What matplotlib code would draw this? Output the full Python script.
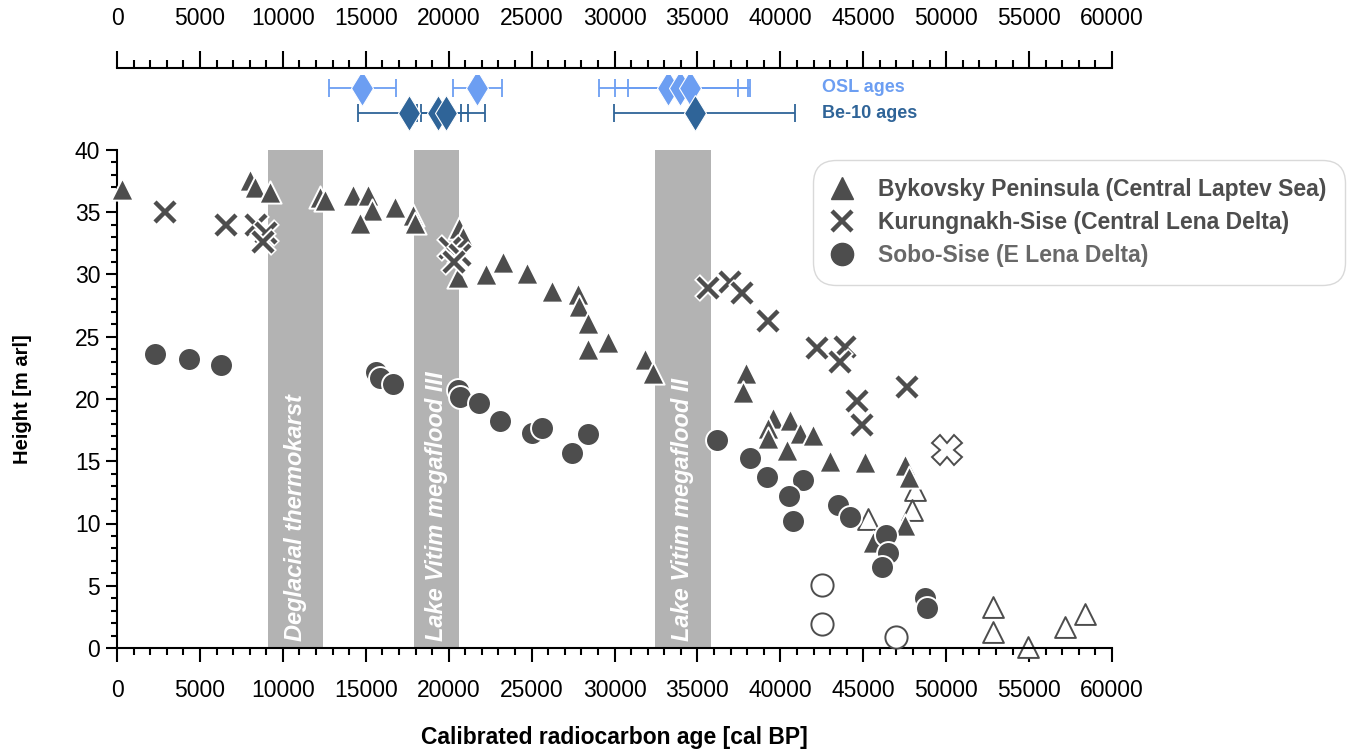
import numpy as np
import matplotlib
matplotlib.use('Agg')
import matplotlib.pyplot as plt
from matplotlib.lines import Line2D

plt.rcParams['font.family'] = ['Liberation Sans', 'DejaVu Sans']

dark = '#4d4d4d'
osl_col = '#6c9ef2'
be_col = '#2f6498'

# Bykovsky Peninsula, filled triangles (age cal BP, height m arl)
byk_age = [300, 8020, 8320, 9230, 12240, 12540, 14230, 15140, 15380, 14650, 16760,
           17850, 17950, 20620, 20860, 20560, 22250, 23280, 24720, 26230, 27800,
           27850, 28400, 28400, 29600, 31840, 32320, 37930, 37750, 39560, 40580,
           39250, 39250, 41190, 41970, 40400, 43000, 45100, 47520, 47760, 47520, 45590]
byk_h = [36.9, 37.6, 37.0, 36.6, 36.2, 36.0, 36.4, 36.4, 35.2, 34.1, 35.4,
         34.8, 34.1, 33.7, 33.0, 29.8, 30.0, 31.0, 30.1, 28.7, 28.4,
         27.5, 26.1, 24.0, 24.6, 23.2, 22.1, 22.1, 20.6, 18.5, 18.3,
         17.7, 16.9, 17.3, 17.1, 15.9, 15.0, 14.9, 14.7, 13.7, 9.9, 8.5]
# Bykovsky, open triangles
byk_open_age = [48120, 47940, 45290, 52820, 52820, 54930, 57160, 58370]
byk_open_h = [12.7, 11.1, 10.4, 3.3, 1.3, 0.1, 1.7, 2.7]

# Kurungnakh-Sise, crosses
kur_age = [2900, 6570, 8400, 9000, 8800, 20100, 20700, 20350, 35640, 36960, 37690,
           39250, 42210, 43900, 43600, 47640, 44620, 44920]
kur_h = [35.0, 34.0, 34.0, 33.3, 32.6, 32.1, 31.6, 31.0, 28.9, 29.4, 28.5,
         26.3, 24.1, 24.2, 23.0, 21.0, 19.8, 17.9]
kur_open_age = [50050]
kur_open_h = [15.9]

# Sobo-Sise, circles
sobo_age = [2290, 4340, 6270, 15620, 15860, 16640, 20560, 20680, 21830, 23090, 25020,
            25630, 27440, 28400, 36180, 38170, 39200, 41370, 40520, 40760, 43480,
            44200, 46370, 46490, 46130, 48720, 48840]
sobo_h = [23.6, 23.2, 22.7, 22.2, 21.7, 21.2, 20.7, 20.2, 19.7, 18.2, 17.3,
          17.7, 15.7, 17.2, 16.7, 15.3, 13.7, 13.5, 12.2, 10.2, 11.5,
          10.5, 9.1, 7.6, 6.5, 4.0, 3.2]
sobo_open_age = [42510, 42510, 46970]
sobo_open_h = [5.1, 1.9, 0.9]

# OSL and Be-10 ages (central value, lower, upper)
osl_age = [14800, 21700, 33200, 33950, 34550]
osl_lo = [12800, 20250, 29050, 30030, 30800]
osl_hi = [16800, 23200, 37450, 38050, 38200]
be_age = [17600, 19350, 19850, 34850]
be_lo = [14550, 18100, 18350, 29950]
be_hi = [20750, 21150, 22200, 40900]

bands = [(9100, 12400, 'Deglacial thermokarst'),
         (17900, 20600, 'Lake Vitim megaflood III'),
         (32450, 35800, 'Lake Vitim megaflood II')]

W, H = 1350, 754
fs = 16.5
fig = plt.figure(figsize=(W / 100, H / 100), dpi=100)
ax = fig.add_axes([117 / W, 106 / H, 995 / W, 498 / H])

for x0, x1, lab in bands:
    ax.axvspan(x0, x1, color='#b3b3b3', zorder=0, lw=0)
    ax.text((x0 + x1) / 2, 0.6, lab, rotation=90, ha='center', va='bottom',
            color='white', fontsize=17, fontweight='bold', fontstyle='italic', zorder=1)

ax.scatter(byk_open_age, byk_open_h, marker='^', s=15 ** 2, facecolor='white',
           edgecolor=dark, linewidths=1.4, zorder=2, clip_on=False)
ax.scatter(byk_age, byk_h, marker='^', s=16 ** 2, facecolor=dark,
           edgecolor='white', linewidths=1.4, zorder=3, clip_on=False)
for xa, ya in zip(kur_age, kur_h):
    ax.plot(xa, ya, marker='x', ms=16.5, mew=6, color='white', zorder=4)
    ax.plot(xa, ya, marker='x', ms=15, mew=3.2, color=dark, zorder=4)
ax.plot(kur_open_age, kur_open_h, marker='X', ms=21, mfc='white', mec=dark, mew=1.4,
        ls='none', zorder=4)
ax.scatter(sobo_age, sobo_h, marker='o', s=16.5 ** 2, facecolor=dark,
           edgecolor='white', linewidths=1.4, zorder=5, clip_on=False)
ax.scatter(sobo_open_age, sobo_open_h, marker='o', s=16 ** 2, facecolor='white',
           edgecolor=dark, linewidths=1.4, zorder=5, clip_on=False)

ax.set_xlim(0, 60000)
ax.set_ylim(0, 40)
ax.spines['top'].set_visible(False)
ax.spines['right'].set_visible(False)
for s in ['left', 'bottom']:
    ax.spines[s].set_linewidth(1.5)
ax.set_xticks(np.arange(0, 60001, 5000))
ax.set_xticks(np.arange(0, 60001, 1000), minor=True)
ax.set_yticks(np.arange(0, 41, 5))
ax.set_yticks(np.arange(0, 41, 1), minor=True)
ax.tick_params(axis='x', which='major', length=10, width=1.5, pad=12, labelsize=fs)
ax.tick_params(axis='x', which='minor', length=5, width=1.5)
ax.tick_params(axis='y', which='major', length=8, width=1.5, pad=4, labelsize=fs)
ax.tick_params(axis='y', which='minor', length=4.5, width=1.5)
ax.set_xlabel('Calibrated radiocarbon age [cal BP]', fontsize=fs, fontweight='bold')
ax.set_ylabel('Height [m arl]', fontsize=14.5, fontweight='bold')
ax.xaxis.set_label_coords(0.5, -0.157)
ax.yaxis.set_label_coords(-0.085, 0.5)

# top scale
axt = fig.add_axes([117 / W, (H - 68) / H, 995 / W, 32 / H])
axt.set_xlim(0, 60000)
axt.set_ylim(0, 1)
for s in ['top', 'left', 'right']:
    axt.spines[s].set_visible(False)
axt.spines['bottom'].set_linewidth(1.5)
axt.set_yticks([])
axt.set_xticks(np.arange(0, 60001, 5000))
axt.set_xticks(np.arange(0, 60001, 1000), minor=True)
axt.tick_params(axis='x', which='both', direction='in', bottom=True, top=False,
                labelbottom=False, labeltop=True, width=1.5)
axt.tick_params(axis='x', which='major', length=12, pad=4, labelsize=fs)
axt.tick_params(axis='x', which='minor', length=6)
axt.patch.set_alpha(0)

# OSL / Be-10 ages
axa = fig.add_axes([117 / W, (H - 140) / H, 995 / W, 65 / H])
axa.set_xlim(0, 60000)
axa.set_ylim(0, 1)
axa.axis('off')
y_osl, y_be = 0.8, 0.415
for a, lo, hi in zip(osl_age, osl_lo, osl_hi):
    axa.errorbar(a, y_osl, xerr=[[a - lo], [hi - a]], fmt='none', ecolor=osl_col,
                 elinewidth=1.3, capsize=6.5, capthick=1.3)
for a, lo, hi in zip(be_age, be_lo, be_hi):
    axa.errorbar(a, y_be, xerr=[[a - lo], [hi - a]], fmt='none', ecolor=be_col,
                 elinewidth=1.3, capsize=6.5, capthick=1.3)
axa.plot(osl_age, [y_osl] * len(osl_age), ls='none', marker='d', ms=18,
         mfc=osl_col, mec='white', mew=0.8)
axa.plot(be_age, [y_be] * len(be_age), ls='none', marker='d', ms=18,
         mfc=be_col, mec='white', mew=0.8)
axa.text(42500, y_osl, 'OSL ages', color=osl_col, fontsize=13, fontweight='bold',
         ha='left', va='center')
axa.text(42500, y_be, 'Be-10 ages', color=be_col, fontsize=13, fontweight='bold',
         ha='left', va='center')

handles = [
    Line2D([], [], ls='none', marker='^', ms=16, color=dark),
    Line2D([], [], ls='none', marker='x', ms=14, mew=3.2, color=dark),
    Line2D([], [], ls='none', marker='o', ms=16, color=dark),
]
labels = ['Bykovsky Peninsula (Central Laptev Sea)',
          'Kurungnakh-Sise (Central Lena Delta)',
          'Sobo-Sise (E Lena Delta)']
leg = fig.legend(handles, labels, loc='upper left', bbox_to_anchor=(813 / W, 1 - 160 / H),
                 prop={'size': fs, 'weight': 'bold'}, frameon=True, borderpad=0.8,
                 handlelength=0.9, handletextpad=1.15, labelspacing=0.42,
                 borderaxespad=0)
fr = leg.get_frame()
fr.set_edgecolor('#d9d9d9')
fr.set_linewidth(1.0)
fr.set_boxstyle('round', pad=0, rounding_size=1.0)
fr.set_alpha(1)
for t, c in zip(leg.get_texts(), [dark, dark, '#686868']):
    t.set_color(c)

fig.savefig('out.png', dpi=100)
